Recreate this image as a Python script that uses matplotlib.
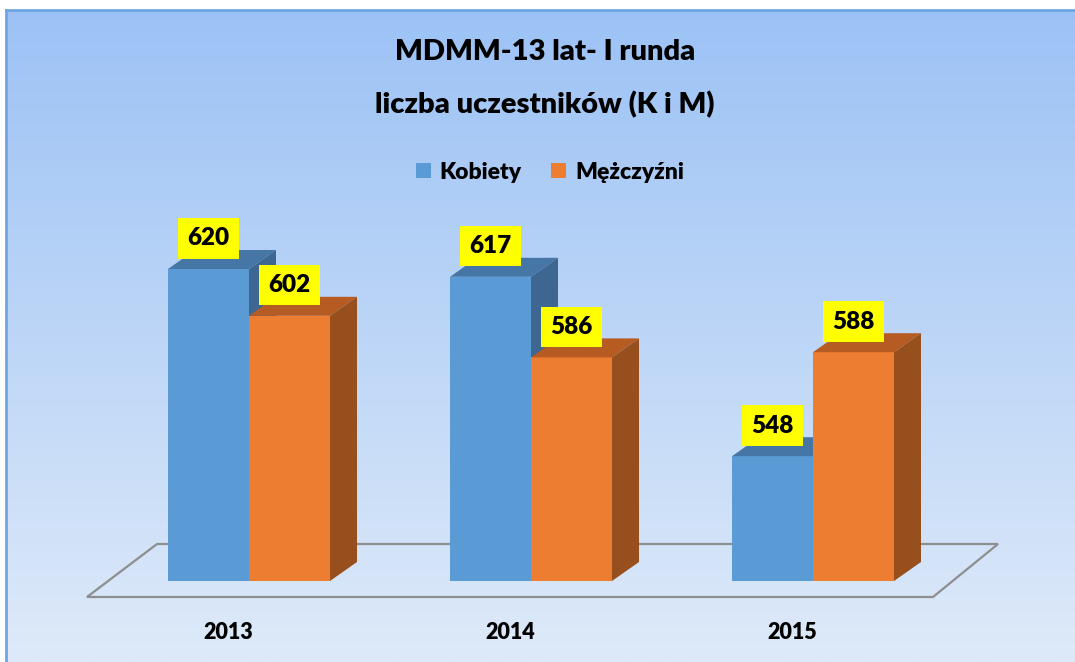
import numpy as np
import matplotlib
matplotlib.use("Agg")
import matplotlib.pyplot as plt
from matplotlib.patches import Polygon, Patch
from matplotlib.transforms import ScaledTranslation

# dane
years = ["2013", "2014", "2015"]
kobiety = [620, 617, 548]
mezczyzni = [602, 586, 588]
series_names = ["Kobiety", "Mężczyźni"]

FONT = ["Lato", "DejaVu Sans"]
plt.rcParams["font.family"] = FONT
WEIGHT = "heavy"

W, H, DPI = 1075, 662, 100
fig = plt.figure(figsize=(W / DPI, H / DPI), dpi=DPI)
fig.patch.set_facecolor("white")

# tło z gradientem i ramką (lewa/górna krawędź)
bg = fig.add_axes([6 / W, 0, 1 - 6 / W, 1 - 10 / H], zorder=0)
grad = np.linspace(0, 1, 256)[:, None]
top_c = np.array([0x9C, 0xC2, 0xF5]) / 255
bot_c = np.array([0xDE, 0xEA, 0xF9]) / 255
img = top_c[None, None, :] * (1 - grad[..., None]) + bot_c[None, None, :] * grad[..., None]
bg.imshow(img, aspect="auto", extent=[0, 1, 0, 1], origin="upper")
bg.set_xticks([])
bg.set_yticks([])
for side in ["right", "bottom"]:
    bg.spines[side].set_visible(False)
for side in ["left", "top"]:
    bg.spines[side].set_color("#6FA6E2")
    bg.spines[side].set_linewidth(2)

# główna oś: skala px -> dane
x0_px, x_step = 249, 282      # środek grupy 2013 i odstęp grup
base_px, px_per_unit = 581, 2.6
bottom_px = 597
ax = fig.add_axes([0, (H - bottom_px) / H, 1, bottom_px / H], zorder=1)
ax.set_facecolor("none")
ax.set_xlim(-x0_px / x_step, (W - x0_px) / x_step)
ax.set_ylim(500 - (bottom_px - base_px) / px_per_unit, 500 + base_px / px_per_unit)
for s in ax.spines.values():
    s.set_visible(False)
ax.set_yticks([])

x = np.arange(len(years))
bw = 81 / x_step
dx = 27 / x_step
dy = 19 / px_per_unit

# podłoga 3D (obrys)
floor_front = 500 - (597 - base_px) / px_per_unit
floor_back = 500 + (base_px - 544) / px_per_unit
floor = Polygon([((87 - x0_px) / x_step, floor_front),
                 ((933 - x0_px) / x_step, floor_front),
                 ((998 - x0_px) / x_step, floor_back),
                 ((157 - x0_px) / x_step, floor_back)],
                closed=True, facecolor="none", edgecolor="#8E8E8E",
                linewidth=1.6, zorder=1, clip_on=False)
ax.add_patch(floor)

colors = [("#5B9BD5", "#4676A6", "#3D6790"),
          ("#ED7D31", "#B65C22", "#97501D")]

z = 2
for vals, (front, topc, sidec), off in [(kobiety, colors[0], -bw / 2),
                                        (mezczyzni, colors[1], bw / 2)]:
    for i, v in enumerate(vals):
        xl = x[i] + off - bw / 2
        xr = xl + bw
        ax.bar(x[i] + off, v - 500, bottom=500, width=bw, color=front,
               edgecolor="none", zorder=z)
        ax.add_patch(Polygon([(xl, v), (xr, v), (xr + dx, v + dy), (xl + dx, v + dy)],
                             facecolor=topc, edgecolor="none", zorder=z))
        ax.add_patch(Polygon([(xr, 500), (xr + dx, 500 + dy), (xr + dx, v + dy), (xr, v)],
                             facecolor=sidec, edgecolor="none", zorder=z))
    z += 1

# etykiety wartości w żółtych ramkach
for vals, off in [(kobiety, -bw / 2), (mezczyzni, bw / 2)]:
    for i, v in enumerate(vals):
        ax.annotate(str(v), xy=(x[i] + off, v), xytext=(0, 22),
                    textcoords="offset points", ha="center", va="center",
                    fontsize=17.5, fontweight=WEIGHT, color="black", zorder=10,
                    bbox=dict(boxstyle="square,pad=0.38", facecolor="#FFFF00",
                              edgecolor="none"))

# etykiety kategorii
ax.set_xticks(x)
ax.set_xticklabels(years, fontsize=15.5, fontweight=WEIGHT)
ax.tick_params(axis="x", length=0, pad=18)
shift = ScaledTranslation(-21 / DPI, 0, fig.dpi_scale_trans)
for lbl in ax.get_xticklabels():
    lbl.set_transform(lbl.get_transform() + shift)

# tytuł
fig.text(545 / W, 1 - 52 / H, "MDMM-13 lat- I runda", ha="center", va="center",
         fontsize=21, fontweight=WEIGHT)
fig.text(545 / W, 1 - 105 / H, "liczba uczestników (K i M)", ha="center", va="center",
         fontsize=21, fontweight=WEIGHT)

# legenda
handles = [Patch(facecolor=colors[0][0]), Patch(facecolor=colors[1][0])]
fig.legend(handles, series_names, loc="center", bbox_to_anchor=(550 / W, 1 - 172 / H),
           ncol=2, frameon=False, prop={"family": FONT, "weight": WEIGHT, "size": 16.5},
           handlelength=0.65, handleheight=0.65, handletextpad=0.4, columnspacing=1.3)

fig.savefig("out.png", dpi=DPI)
